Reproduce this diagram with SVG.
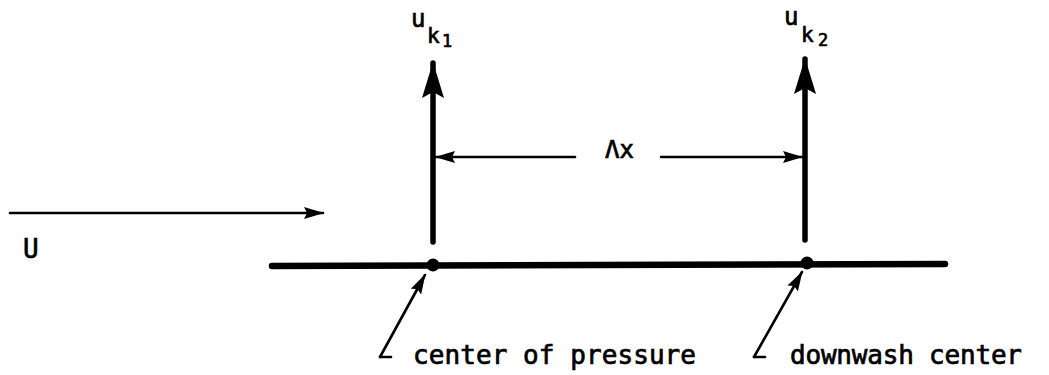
<svg xmlns="http://www.w3.org/2000/svg" width="1049" height="375" viewBox="0 0 1049 375">
<style>
.t{font-family:"DejaVu Sans Mono","Liberation Mono",monospace;fill:#000;stroke:#000;stroke-width:0.7}
.thin{stroke:#000;stroke-width:2.6;fill:none;stroke-linecap:round}
.thick{stroke:#000;stroke-width:5.5;fill:none;stroke-linecap:round}
</style>
<defs>
<marker id="big" markerUnits="userSpaceOnUse" viewBox="0 0 36 22" refX="35" refY="11" markerWidth="36" markerHeight="22" orient="auto">
<path d="M0,0 L36,11 L0,22 L6,11 Z" fill="#000"/>
</marker>
<marker id="small" markerUnits="userSpaceOnUse" viewBox="0 0 20 12" refX="19" refY="6" markerWidth="20" markerHeight="12" orient="auto">
<path d="M0,0 L20,6 L0,12 L3,6 Z" fill="#000"/>
</marker>
</defs>
<rect width="1049" height="375" fill="#fff"/>
<g id="connectors">
<line class="thick" x1="433" y1="242" x2="433" y2="63" marker-end="url(#big)"/>
<line class="thick" x1="805" y1="240" x2="805" y2="59" marker-end="url(#big)"/>
<line class="thin" x1="575" y1="157" x2="436" y2="157" marker-end="url(#small)"/>
<line class="thin" x1="661" y1="157" x2="802" y2="157" marker-end="url(#small)"/>
<line class="thin" x1="10" y1="213" x2="323" y2="213" marker-end="url(#small)"/>
<line class="thin" x1="380" y1="357" x2="425" y2="275" marker-end="url(#small)"/>
<line class="thin" x1="380" y1="357" x2="391" y2="357"/>
<line class="thin" x1="754" y1="357" x2="802" y2="272" marker-end="url(#small)"/>
<line class="thin" x1="754" y1="357" x2="765" y2="357"/>
</g>
<g id="plate">
<line x1="272" y1="266" x2="945" y2="264" stroke="#000" stroke-width="6.5" stroke-linecap="round"/>
</g>
<g id="cp">
<circle cx="433" cy="265" r="6.5" fill="#000"/>
</g>
<g id="dc">
<circle cx="807" cy="263" r="6.5" fill="#000"/>
</g>
<g id="label-uk1">
<text class="t" x="411" y="27" font-size="24">u</text>
<text class="t" x="427" y="43" font-size="21">k</text>
<text class="t" x="442" y="47" font-size="17">1</text>
</g>
<g id="label-uk2">
<text class="t" x="784" y="25" font-size="24">u</text>
<text class="t" x="801" y="42" font-size="21">k</text>
<text class="t" x="818" y="46" font-size="17">2</text>
</g>
<g id="label-dx">
<text class="t" x="605" y="158" font-size="24">Λx</text>
</g>
<g id="label-U">
<text class="t" x="23" y="258" font-size="26">U</text>
</g>
<g id="label-cp">
<text class="t" x="413" y="364" font-size="26" textLength="283" lengthAdjust="spacing">center of pressure</text>
</g>
<g id="label-dc">
<text class="t" x="790" y="364" font-size="26" textLength="232" lengthAdjust="spacing">downwash center</text>
</g>
</svg>
